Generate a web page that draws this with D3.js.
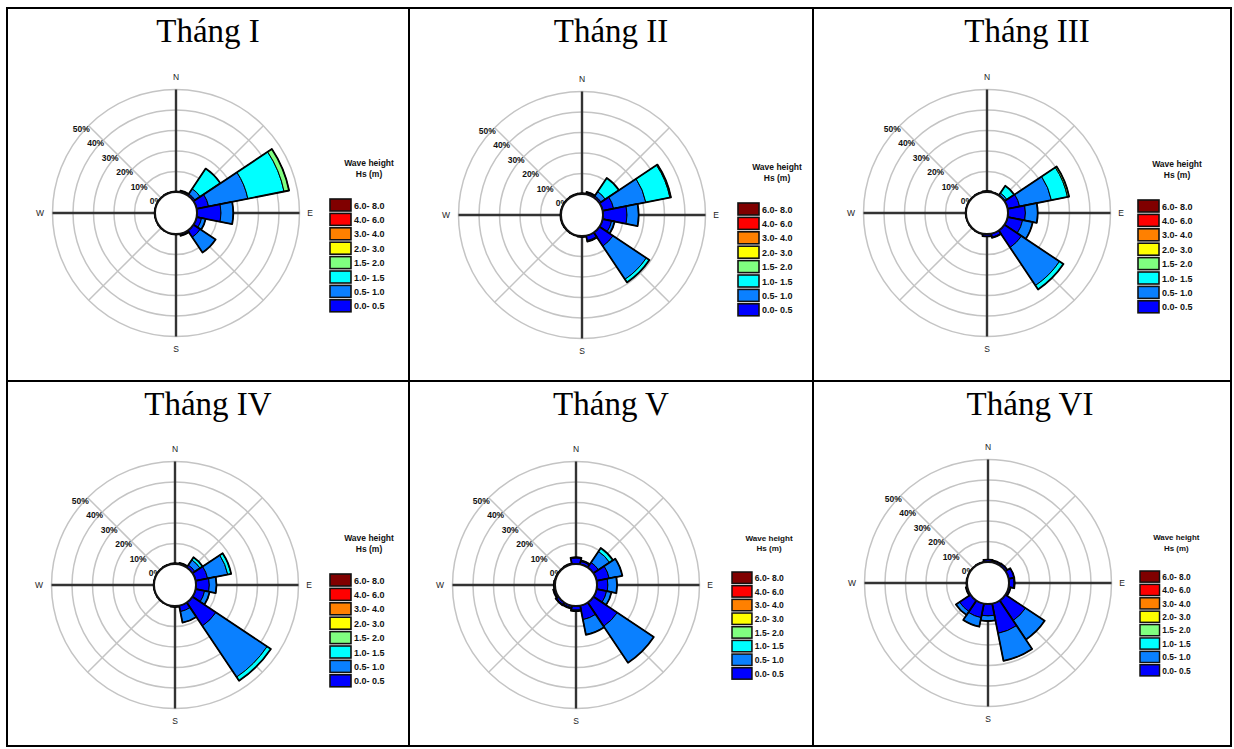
<!DOCTYPE html>
<html>
<head>
<meta charset="utf-8">
<style>
    body { margin: 0; background: #fff; }
    svg { display: block; }
    .title { font-family: "Liberation Serif", "Times New Roman", serif; font-size: 33px; fill: #000; }
    .compass { font-family: Arial, "Liberation Sans", sans-serif; font-size: 8.5px; fill: #222; }
    .ring-label { font-family: Arial, "Liberation Sans", sans-serif; font-size: 8.5px; font-weight: bold; fill: #111; }
    .legend text { font-family: Arial, "Liberation Sans", sans-serif; font-weight: bold; fill: #111; }
</style>
</head>
<body>
<svg width="1234" height="749"></svg>

<script src="https://d3js.org/d3.v7.min.js"></script>
<script>
    // 16 direction sectors, clockwise from north
    const directions = ["N", "NNE", "NE", "ENE", "E", "ESE", "SE", "SSE",
        "S", "SSW", "SW", "WSW", "W", "WNW", "NW", "NNW"]

    // wave height classes (Hs, m), lowest first
    const heightClasses = ["0.0- 0.5", "0.5- 1.0", "1.0- 1.5", "1.5- 2.0",
        "2.0- 3.0", "3.0- 4.0", "4.0- 6.0", "6.0- 8.0"]
    const classColors = ["#0000ff", "#0a80ff", "#00ffff", "#80ff80",
        "#ffff00", "#ff8000", "#ff0000", "#800000"]

    const ringTicks = [0, 10, 20, 30, 40, 50]
    const months = ["Tháng I", "Tháng II", "Tháng III", "Tháng IV", "Tháng V", "Tháng VI"]

    // frequency (%) per direction, one value per height class (missing = 0)
    const thang1 = [
        [0.3], [0.5, 0.4], [1, 3, 11.8], [6, 19.5, 18, 2.5],
        [11.7, 6], [2.5, 2], [4, 9], [0.8, 0.3],
        [0.3], [0.2], [0.2], [0.2], [0.2], [0.2], [0.2], [0.3]
    ]
    const thang2 = [
        [0.4], [0.8, 0.4], [1, 2.5, 8], [5.5, 16, 12, 0.5],
        [11.7, 5.7], [4.5, 1.5], [8, 19.5, 1.8], [2.5, 0.5],
        [0.5], [0.3], [0.3], [0.3], [0.3], [0.3], [0.3], [0.4]
    ]
    const thang3 = [
        [0.5], [0.3], [0.5, 1, 4.3], [6, 15.8, 8, 0.8],
        [8.5, 6], [7.5, 5], [10, 22.3, 2.3], [1.8, 0.3],
        [1.2], [0.3], [0.2], [0.2], [0.2], [0.2], [0.2], [0.3]
    ]
    const thang4 = [
        [0.4], [0.5, 0.3], [1.5, 3, 1.5], [6, 10, 1.7],
        [6.5, 3.5], [4.5, 2.5], [13.8, 30, 2.2], [3, 5.5],
        [0.5], [0.2], [0.2], [0.2], [0.2], [0.2], [0.2], [0.3]
    ]
    const thang5 = [
        [3, 0.3], [1.5, 0.5], [3, 6.5, 2], [6.3, 6.5],
        [5.3, 4.5], [5, 2.4], [14, 21.4], [7, 7.5],
        [2, 0.5], [1, 0.5], [1.2, 0.5], [0.8, 0.3], [0.6], [0.4], [0.3], [0.5]
    ]
    const thang6 = [
        [1.2], [1], [1.2], [2.8],
        [2.5, 0.3], [1], [11.8, 11.2], [14.8, 13.7],
        [5.8, 2.5], [7, 4.5], [6.5, 2.1], [0.8], [0.3], [0.2], [0.2], [0.3]
    ]
    const monthData = [thang1, thang2, thang3, thang4, thang5, thang6]

    // layout
    const colEdges = [7, 409, 813, 1231]
    const rowEdges = [8, 381, 746]
    const centers = [[176, 213], [582, 215], [987, 213], [175, 585], [576, 585], [988, 583]]
    const titleX = [208, 611, 1027, 208, 611, 1030]
    const legendPos = [[330, 199, 1], [738, 203, 1], [1138, 200, 1], [330, 574, 1], [732, 572, 0.95], [1140, 571, 0.93]]

    const holeR = 21
    const r = d3.scaleLinear().domain([0, 50]).range([holeR, 123.5])
    const outerR = r(50)
    const sector = Math.PI * 2 / directions.length

    const svg = d3.select("svg")

    // table frame
    const frame = svg.append("g").attr("stroke", "#000").attr("stroke-width", 2)
    frame.append("rect")
        .attr("x", colEdges[0]).attr("y", rowEdges[0])
        .attr("width", colEdges[3] - colEdges[0]).attr("height", rowEdges[2] - rowEdges[0])
        .attr("fill", "none")
    colEdges.slice(1, 3).forEach(x => frame.append("line")
        .attr("x1", x).attr("x2", x).attr("y1", rowEdges[0]).attr("y2", rowEdges[2]))
    frame.append("line")
        .attr("x1", colEdges[0]).attr("x2", colEdges[3])
        .attr("y1", rowEdges[1]).attr("y2", rowEdges[1])

    const arc = d3.arc()

    months.forEach(function (name, i) {
        const [cx, cy] = centers[i]
        const row = Math.floor(i / 3)

        svg.append("text")
            .attr("class", "title")
            .attr("x", titleX[i])
            .attr("y", rowEdges[row] + 34)
            .attr("text-anchor", "middle")
            .text(name)

        const g = svg.append("g").attr("transform", `translate(${cx},${cy})`)

        // grid rings
        g.selectAll(".ring")
            .data(ringTicks.slice(1))
            .join("circle")
            .attr("r", d => r(d))
            .attr("fill", "none")
            .attr("stroke", "#c4c4c4")
            .attr("stroke-width", 1.5)

        // diagonal spokes
        g.selectAll(".diag")
            .data([45, 135, 225, 315])
            .join("line")
            .attr("x1", d => holeR * Math.sin(d * Math.PI / 180))
            .attr("y1", d => -holeR * Math.cos(d * Math.PI / 180))
            .attr("x2", d => outerR * Math.sin(d * Math.PI / 180))
            .attr("y2", d => -outerR * Math.cos(d * Math.PI / 180))
            .attr("stroke", "#c4c4c4")
            .attr("stroke-width", 1.5)

        // main axes
        g.append("line").attr("x1", 0).attr("x2", 0).attr("y1", -outerR).attr("y2", outerR)
            .attr("stroke", "#333").attr("stroke-width", 2.4)
        g.append("line").attr("y1", 0).attr("y2", 0).attr("x1", -outerR).attr("x2", outerR)
            .attr("stroke", "#333").attr("stroke-width", 2.4)

        // ring labels along NW diagonal
        g.selectAll(".ring-label")
            .data(ringTicks)
            .join("text")
            .attr("class", "ring-label")
            .attr("text-anchor", "end")
            .attr("x", d => -r(d) * Math.SQRT1_2 + 1)
            .attr("y", d => -r(d) * Math.SQRT1_2 + 6)
            .text(d => d + "%")

        // stacked sectors
        const bars = monthData[i].map(function (vals, di) {
            let cum = 0
            const segs = vals.map(function (v, ci) {
                const s = { dir: di, cls: ci, inner: cum, outer: cum + v }
                cum += v
                return s
            })
            return { dir: di, total: cum, segs: segs }
        })

        const barG = g.append("g")
        bars.forEach(function (b) {
            const a0 = b.dir * sector - sector / 2
            const a1 = b.dir * sector + sector / 2
            barG.selectAll(null)
                .data(b.segs.filter(s => s.outer > s.inner))
                .join("path")
                .attr("d", s => arc({ innerRadius: r(s.inner), outerRadius: r(s.outer), startAngle: a0, endAngle: a1 }))
                .attr("fill", s => classColors[s.cls])
                .attr("stroke", "#000")
                .attr("stroke-width", 1)
            barG.append("path")
                .attr("d", arc({ innerRadius: holeR, outerRadius: r(b.total), startAngle: a0, endAngle: a1 }))
                .attr("fill", "none")
                .attr("stroke", "#000")
                .attr("stroke-width", 1.8)
                .attr("stroke-linejoin", "round")
        })

        // calm hole
        g.append("circle")
            .attr("r", holeR)
            .attr("fill", "#fff")
            .attr("stroke", "#111")
            .attr("stroke-width", 2)

        // compass letters
        const compass = [["N", 0, -133], ["S", 0, 139], ["W", -136, 3], ["E", 134, 3]]
        g.selectAll(".compass")
            .data(compass)
            .join("text")
            .attr("class", "compass")
            .attr("text-anchor", "middle")
            .attr("x", d => d[1])
            .attr("y", d => d[2])
            .text(d => d[0])

        // legend
        const [lx, ly, ls] = legendPos[i]
        const lg = svg.append("g")
            .attr("class", "legend")
            .attr("transform", `translate(${lx},${ly}) scale(${ls})`)
        lg.append("text").attr("x", 39).attr("y", -33).attr("text-anchor", "middle")
            .style("font-size", "8.5px").text("Wave height")
        lg.append("text").attr("x", 39).attr("y", -22).attr("text-anchor", "middle")
            .style("font-size", "8.5px").text("Hs (m)")

        const legendItems = heightClasses.map((c, ci) => ({ label: c, color: classColors[ci] })).reverse()
        const item = lg.selectAll(".item")
            .data(legendItems)
            .join("g")
            .attr("transform", (d, k) => `translate(0,${k * 14.4})`)
        item.append("rect")
            .attr("width", 21).attr("height", 12)
            .attr("fill", d => d.color)
            .attr("stroke", "#111")
            .attr("stroke-width", 1.6)
        item.append("text")
            .attr("x", 24).attr("y", 9.5)
            .style("font-size", "9px")
            .text(d => d.label)
    })
</script>
</body>
</html>
